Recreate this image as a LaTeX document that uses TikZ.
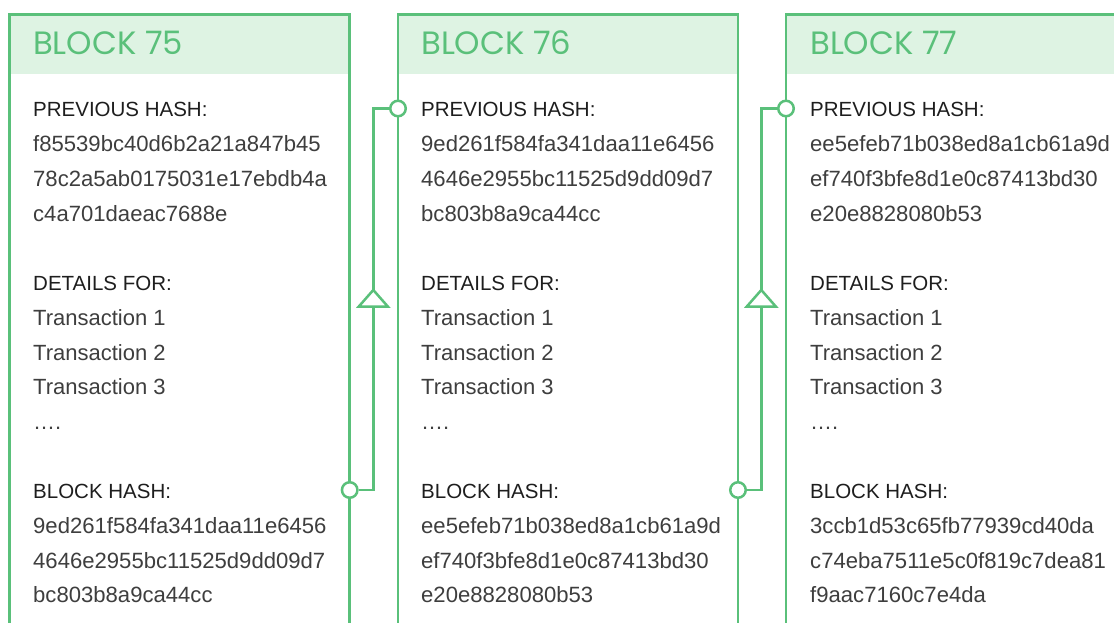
\documentclass[tikz,border=0pt]{standalone}
\usepackage{fontspec}
\setmainfont{Liberation Sans}
\newfontfamily\titlefont{Poppins}
\definecolor{chain}{RGB}{90,192,122}
\definecolor{headfill}{RGB}{222,243,227}
\definecolor{ink}{RGB}{30,30,30}
\definecolor{soft}{RGB}{62,62,62}
\newcommand\blocktext[8]{%
  \node[label] (n#2a) at (#1,117)   {PREVIOUS HASH:};
  \node[value] (n#2b) at (#1,151.7) {#3};
  \node[value] (n#2c) at (#1,186.4) {#4};
  \node[value] (n#2d) at (#1,221.1) {#5};
  \node[label] (n#2e) at (#1,290.6) {DETAILS FOR:};
  \node[entry] (n#2f) at (#1,325.3) {Transaction 1};
  \node[entry] (n#2g) at (#1,360)   {Transaction 2};
  \node[entry] (n#2h) at (#1,394.7) {Transaction 3};
  \node[entry] (n#2i) at (#1,429.4) {….};
  \node[label] (n#2j) at (#1,498.8) {BLOCK HASH:};
  \node[value] (n#2k) at (#1,533.5) {#6};
  \node[value] (n#2l) at (#1,568.2) {#7};
  \node[value] (n#2m) at (#1,602.9) {#8};
}
\begin{document}
\begin{tikzpicture}[x=1pt,y=-1pt,
  blockbox/.style={draw=chain, line width=2.5pt, minimum width=340pt, minimum height=700pt, anchor=north west, inner sep=0pt, outer sep=0pt},
  headbar/.style={fill=headfill, minimum width=340pt, minimum height=60pt, anchor=north west, inner sep=0pt, outer sep=0pt},
  title/.style={anchor=base west, inner sep=0pt, font=\titlefont\fontsize{32.3}{32.3}\selectfont, text=chain},
  label/.style={anchor=base west, inner sep=0pt, font=\fontsize{20.5}{20.5}\selectfont, text=ink},
  entry/.style={anchor=base west, inner sep=0pt, font=\fontsize{22}{22}\selectfont, text=soft},
  value/.style={anchor=base west, inner sep=0pt, font=\fontsize{22.1}{22.1}\selectfont, text=soft},
  port/.style={circle, draw=chain, fill=white, line width=2.5pt, minimum size=15.5pt, inner sep=0pt},
  link/.style={draw=chain, line width=2.5pt}]
\useasboundingbox (0,0) rectangle (1114,623);
\fill[white] (0,0) rectangle (1114,623);
\clip (0,0) rectangle (1114,623);
% blocks
\node[headbar] (hb75) at (9.7,14.5) {};
\node[headbar] (hb76) at (398,14.5) {};
\node[headbar] (hb77) at (786,14.5) {};
\node[blockbox] (b75) at (9.7,14.5) {};
\node[blockbox] (b76) at (398,14.5) {};
\node[blockbox] (b77) at (786,14.5) {};
\node[title] (t75) at (33,55) {BLOCK 75};
\node[title] (t76) at (421,55) {BLOCK 76};
\node[title] (t77) at (810,55) {BLOCK 77};
\blocktext{33}{75}{f85539bc40d6b2a21a847b45}{78c2a5ab0175031e17ebdb4a}{c4a701daeac7688e}{9ed261f584fa341daa11e6456}{4646e2955bc11525d9dd09d7}{bc803b8a9ca44cc}
\blocktext{421}{76}{9ed261f584fa341daa11e6456}{4646e2955bc11525d9dd09d7}{bc803b8a9ca44cc}{ee5efeb71b038ed8a1cb61a9d}{ef740f3bfe8d1e0c87413bd30}{e20e8828080b53}
\blocktext{810}{77}{ee5efeb71b038ed8a1cb61a9d}{ef740f3bfe8d1e0c87413bd30}{e20e8828080b53}{3ccb1d53c65fb77939cd40da}{c74eba7511e5c0f819c7dea81}{f9aac7160c7e4da}
% links
\coordinate (k76b) at (373.3,306.5);
\coordinate (k76t) at (373.3,290);
\coordinate (k77b) at (761.3,306.5);
\coordinate (k77t) at (761.3,290);
\node[port] (o75) at (349.7,490) {};
\node[port] (i76) at (398,108.5) {};
\node[port] (o76) at (738,490) {};
\node[port] (i77) at (786,108.5) {};
\draw[link] (o75.east) -| (k76b);
\draw[link] (k76t) |- (i76.west);
\draw[link, fill=white] (k76t) -- ++(14.5,16.5) -- ++(-29,0) -- cycle;
\draw[link] (o76.east) -| (k77b);
\draw[link] (k77t) |- (i77.west);
\draw[link, fill=white] (k77t) -- ++(14.5,16.5) -- ++(-29,0) -- cycle;
\end{tikzpicture}
\end{document}
